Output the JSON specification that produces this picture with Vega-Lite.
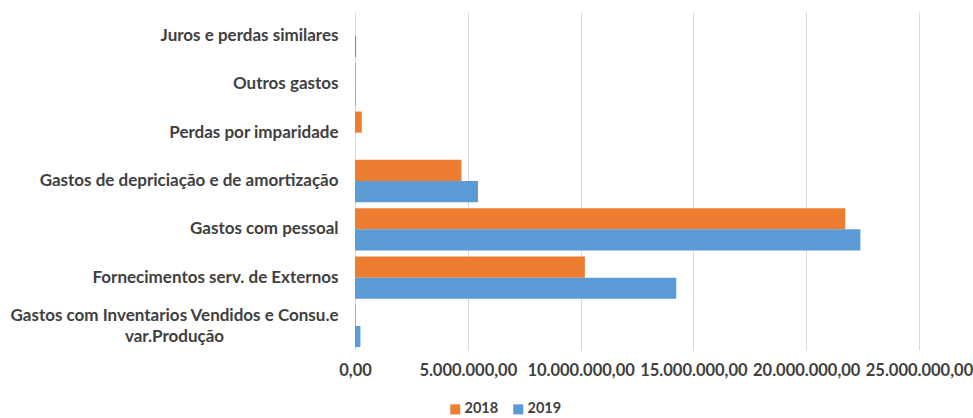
{
  "$schema": "https://vega.github.io/schema/vega-lite/v6.json",
  "autosize": "none",
  "width": 564,
  "height": 338,
  "padding": {"left": 355, "top": 12, "right": 54, "bottom": 68},
  "background": "white",
  "config": {
    "locale": {"number": {"decimal": ",", "thousands": ".", "grouping": [3], "currency": ["", ""]}},
    "view": {"stroke": null},
    "font": "Lato"
  },
  "data": {
    "values": [
      {"categoria": "Juros e perdas similares", "ano": "2018", "valor": 0},
      {"categoria": "Juros e perdas similares", "ano": "2019", "valor": 50000},
      {"categoria": "Outros gastos", "ano": "2018", "valor": 30000},
      {"categoria": "Outros gastos", "ano": "2019", "valor": 30000},
      {"categoria": "Perdas por imparidade", "ano": "2018", "valor": 300000},
      {"categoria": "Perdas por imparidade", "ano": "2019", "valor": 0},
      {"categoria": "Gastos de depriciação e de amortização", "ano": "2018", "valor": 4720000},
      {"categoria": "Gastos de depriciação e de amortização", "ano": "2019", "valor": 5450000},
      {"categoria": "Gastos com pessoal", "ano": "2018", "valor": 21730000},
      {"categoria": "Gastos com pessoal", "ano": "2019", "valor": 22400000},
      {"categoria": "Fornecimentos serv. de Externos", "ano": "2018", "valor": 10190000},
      {"categoria": "Fornecimentos serv. de Externos", "ano": "2019", "valor": 14240000},
      {"categoria": "Gastos com Inventarios Vendidos e Consu.e var.Produção", "ano": "2018", "valor": 30000},
      {"categoria": "Gastos com Inventarios Vendidos e Consu.e var.Produção", "ano": "2019", "valor": 240000}
    ]
  },
  "mark": {"type": "bar"},
  "encoding": {
    "y": {
      "field": "categoria",
      "type": "nominal",
      "sort": [
        "Juros e perdas similares",
        "Outros gastos",
        "Perdas por imparidade",
        "Gastos de depriciação e de amortização",
        "Gastos com pessoal",
        "Fornecimentos serv. de Externos",
        "Gastos com Inventarios Vendidos e Consu.e var.Produção"
      ],
      "scale": {"paddingInner": 0.125, "paddingOuter": 0.06},
      "axis": {
        "title": null,
        "domain": false,
        "ticks": false,
        "labelPadding": 17,
        "labelFont": "Lato",
        "labelFontSize": 17,
        "labelFontWeight": "bold",
        "labelColor": "#404040",
        "labelLimit": 400,
        "labelLineHeight": 21.5,
        "labelExpr": "datum.label == 'Gastos com Inventarios Vendidos e Consu.e var.Produção' ? ['Gastos com Inventarios Vendidos e Consu.e', 'var.Produção'] : datum.label",
        "encoding": {
          "labels": {
            "align": {
              "condition": {"test": "datum.value == 'Gastos com Inventarios Vendidos e Consu.e var.Produção'", "value": "center"},
              "value": "right"
            },
            "dx": {
              "condition": {"test": "datum.value == 'Gastos com Inventarios Vendidos e Consu.e var.Produção'", "value": -164},
              "value": 0
            },
            "dy": {
              "condition": {"test": "datum.value == 'Gastos com Inventarios Vendidos e Consu.e var.Produção'", "value": -10},
              "value": 0
            }
          }
        }
      }
    },
    "yOffset": {"field": "ano", "type": "nominal", "sort": ["2018", "2019"]},
    "x": {
      "field": "valor",
      "type": "quantitative",
      "scale": {"domain": [0, 25000000], "nice": false},
      "axis": {
        "title": null,
        "values": [0, 5000000, 10000000, 15000000, 20000000, 25000000],
        "format": ",.2f",
        "domain": false,
        "ticks": false,
        "grid": true,
        "gridColor": "#d9d9d9",
        "gridWidth": 1,
        "labelPadding": 12,
        "labelFont": "Lato",
        "labelFontSize": 16.5,
        "labelFontWeight": "bold",
        "labelColor": "#404040",
        "labelFlush": false,
        "labelOverlap": false
      }
    },
    "color": {
      "field": "ano",
      "type": "nominal",
      "scale": {"domain": ["2018", "2019"], "range": ["#ED7D31", "#5B9BD5"]},
      "legend": {
        "title": null,
        "orient": "none",
        "legendX": 93,
        "legendY": 390,
        "direction": "horizontal",
        "symbolType": "square",
        "symbolSize": 100,
        "symbolStrokeWidth": 0,
        "labelFont": "Lato",
        "labelFontSize": 14.5,
        "labelFontWeight": "bold",
        "labelColor": "#404040",
        "columnPadding": 12,
        "labelOffset": 2
      }
    }
  }
}
